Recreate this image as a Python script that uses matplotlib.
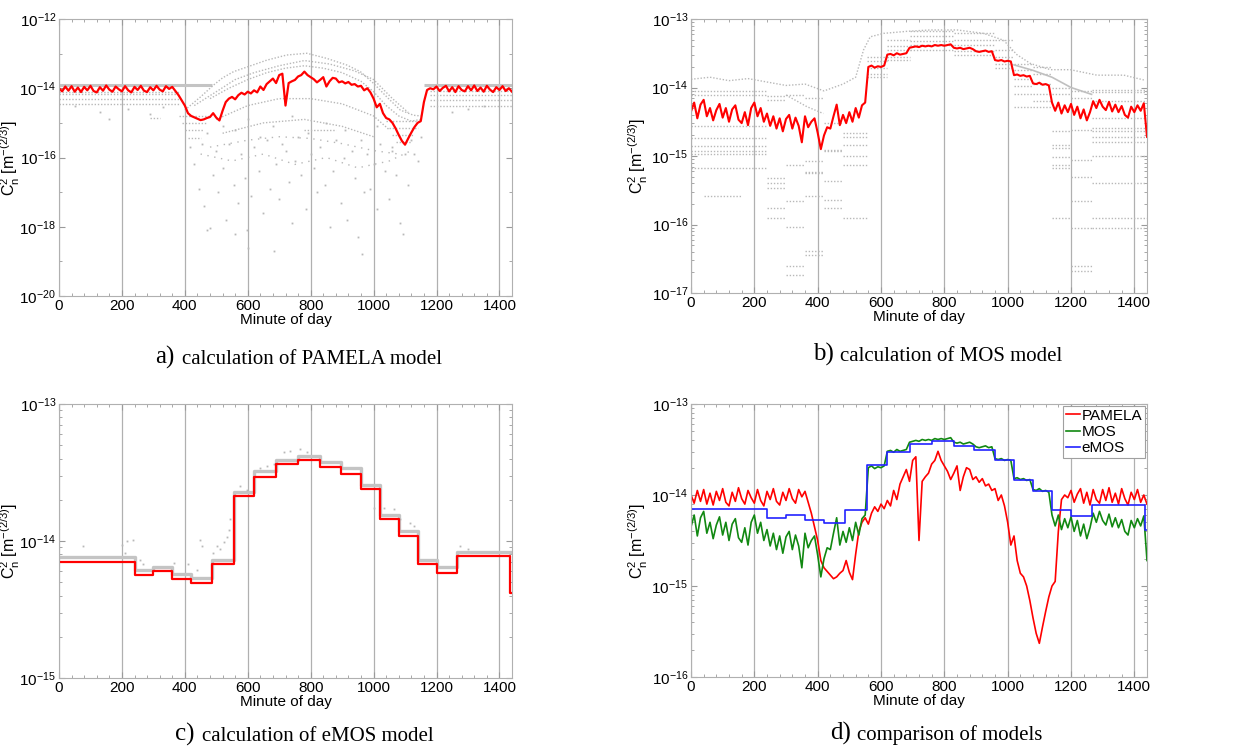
import numpy as np
import matplotlib
matplotlib.use('Agg')
import matplotlib.pyplot as plt
from matplotlib.ticker import MultipleLocator, FixedLocator, NullFormatter

plt.rcParams['font.family'] = ['Liberation Sans', 'DejaVu Sans']
plt.rcParams['mathtext.fontset'] = 'custom'
plt.rcParams['mathtext.rm'] = 'Liberation Sans'
plt.rcParams['mathtext.it'] = 'Liberation Sans:italic'
plt.rcParams['mathtext.bf'] = 'Liberation Sans:bold'
plt.rcParams['axes.unicode_minus'] = False

# ---------------- data (log10 of Cn2) ----------------
minutes = np.arange(0, 1441, 10)

pamela_log10 = [
    -14.00, -14.09, -13.95, -14.07, -13.94, -14.10, -13.98, -14.11, -13.96, -14.06,
    -13.93, -14.08, -14.12, -13.97, -14.07, -13.92, -14.04, -14.10, -13.95, -14.03,
    -14.09, -13.94, -14.06, -14.12, -13.96, -14.05, -13.93, -14.07, -14.11, -13.97,
    -14.06, -13.93, -14.04, -14.09, -13.94, -14.02, -13.96, -14.08, -14.20, -14.35,
    -14.50, -14.72, -14.80, -14.84, -14.88, -14.92, -14.90, -14.86, -14.83, -14.72,
    -14.85, -14.93, -14.65, -14.40, -14.30, -14.25, -14.32, -14.20, -14.13, -14.18,
    -14.10, -14.15, -14.06, -14.12, -13.95, -14.05, -13.88, -13.80, -13.72, -13.85,
    -13.62, -13.58, -14.50, -13.85, -13.80, -13.76, -13.66, -13.62, -13.52, -13.62,
    -13.68, -13.74, -13.83, -13.76, -13.68, -13.95, -13.80, -13.70, -13.72, -13.83,
    -13.80, -13.86, -13.82, -13.90, -13.88, -13.95, -13.93, -14.06, -14.00, -14.12,
    -14.30, -14.55, -14.45, -14.72, -14.86, -14.90, -15.00, -15.16, -15.35, -15.52,
    -15.63, -15.45, -15.28, -15.12, -15.00, -14.95, -14.40, -14.05, -14.00, -14.03,
    -13.95, -14.08, -13.99, -13.93, -14.09, -13.97, -14.11, -13.94, -14.05, -14.09,
    -13.94, -14.06, -13.92, -14.08, -13.98, -14.10, -13.93, -14.04, -14.11, -13.97,
    -14.05, -13.94, -14.08, -14.00, -14.10]

mos_log10 = [
    -14.35, -14.22, -14.45, -14.25, -14.18, -14.42, -14.30, -14.48, -14.33, -14.24,
    -14.44, -14.30, -14.50, -14.32, -14.26, -14.47, -14.52, -14.36, -14.55, -14.30,
    -14.22, -14.42, -14.30, -14.50, -14.38, -14.56, -14.42, -14.60, -14.45, -14.64,
    -14.46, -14.40, -14.60, -14.44, -14.56, -14.80, -14.42, -14.58, -14.50, -14.45,
    -14.66, -14.90, -14.70, -14.58, -14.60, -14.42, -14.25, -14.55, -14.40, -14.52,
    -14.36, -14.50, -14.30, -14.44, -14.26, -14.22, -13.70, -13.68, -13.71, -13.69,
    -13.70, -13.68, -13.52, -13.51, -13.53, -13.50, -13.52, -13.51, -13.50, -13.42,
    -13.41, -13.40, -13.41, -13.39, -13.40, -13.39, -13.40, -13.38, -13.39, -13.38,
    -13.39, -13.38, -13.37, -13.42, -13.43, -13.42, -13.44, -13.43, -13.42, -13.44,
    -13.47, -13.48, -13.47, -13.46, -13.48, -13.47, -13.60, -13.61, -13.60, -13.62,
    -13.61, -13.62, -13.82, -13.81, -13.83, -13.82, -13.84, -13.83, -13.94, -13.95,
    -13.93, -13.96, -13.95, -13.97, -14.22, -14.34, -14.22, -14.38, -14.26, -14.36,
    -14.24, -14.40, -14.28, -14.45, -14.32, -14.48, -14.36, -14.20, -14.30, -14.18,
    -14.28, -14.33, -14.21, -14.35, -14.25, -14.36, -14.27, -14.40, -14.44, -14.28,
    -14.36, -14.26, -14.34, -14.23, -14.72]

emos_edges = [0, 240, 300, 360, 420, 485, 555, 620, 690, 760, 830, 895, 960,
              1020, 1080, 1140, 1200, 1265, 1435, 1440]
emos_log10 = [-14.15, -14.25, -14.22, -14.28, -14.31, -14.17, -13.67, -13.53,
              -13.44, -13.41, -13.46, -13.51, -13.62, -13.84, -13.96, -14.17,
              -14.23, -14.11, -14.38]
# gray ensemble band just above eMOS (panel c)
emos_members_log10 = [-14.12, -14.21, -14.19, -14.24, -14.27, -14.14, -13.64, -13.49,
                      -13.41, -13.38, -13.42, -13.47, -13.59, -13.81, -13.93, -14.14,
                      -14.19, -14.08, -14.08]
c_scatter_min = [77, 199, 210, 215, 236, 258, 268, 364, 411, 438, 449, 454, 491, 502,
                 512, 523, 533, 539, 544, 576, 597, 639, 661, 682, 714, 735, 767, 788,
                 1000, 1032, 1064, 1085, 1117, 1127, 1276, 1300]
c_scatter_log10 = [-14.04, -14.03, -14.09, -14.00, -13.99, -14.14, -14.17, -14.16,
                   -14.17, -14.21, -13.99, -14.04, -14.09, -14.04, -14.06, -14.01,
                   -13.97, -13.92, -13.84, -13.60, -13.63, -13.47, -13.45, -13.44,
                   -13.35, -13.34, -13.33, -13.35, -13.76, -13.76, -13.77, -13.84,
                   -13.87, -13.89, -14.04, -14.06]

# panel a gray ensemble members
a_band_start = [0, 1160]
a_band_end = [485, 1440]
a_band_log10 = [-13.92, -13.92]
a_seg_start = [0, 0, 0, 0, 1180, 1180, 1180, 1180, 380, 390, 400, 410,
               1040, 1050, 1060, 1070, 780, 290]
a_seg_end = [380, 380, 380, 380, 1440, 1440, 1440, 1440, 480, 470, 460, 450,
             1150, 1140, 1130, 1120, 880, 320]
a_seg_log10 = [-14.10, -14.18, -14.30, -14.45, -14.08, -14.20, -14.35, -14.50,
               -14.80, -15.00, -15.20, -15.45, -14.95, -15.15, -15.35, -15.55,
               -15.20, -14.87]
a_arc1_min = [400, 450, 491, 520, 555, 600, 660, 724, 788, 852, 915, 958, 1000, 1042,
              1085, 1127, 1150]
a_arc1_log10 = [-14.63, -14.25, -13.91, -13.70, -13.52, -13.38, -13.19, -13.04, -12.99,
                -13.14, -13.33, -13.52, -13.86, -14.25, -14.63, -14.78, -14.80]
a_arc2_min = [480, 540, 600, 660, 720, 780, 840, 900, 960, 1000, 1040, 1080, 1120, 1150]
a_arc2_log10 = [-14.30, -14.00, -13.75, -13.55, -13.42, -13.35, -13.42, -13.55, -13.80,
                -14.10, -14.50, -14.80, -14.95, -14.90]
a_arc3_min = [500, 600, 700, 800, 900, 1000, 1050]
a_arc3_log10 = [-14.90, -14.50, -14.30, -14.30, -14.45, -14.80, -15.20]
a_arc4_min = [520, 650, 780, 900, 1000]
a_arc4_log10 = [-15.30, -15.00, -14.90, -15.10, -15.40]
a_arc5_min = [430, 500, 560, 620, 700, 780, 860, 940, 1000, 1060, 1110]
a_arc5_log10 = [-14.50, -14.10, -13.75, -13.55, -13.35, -13.20, -13.30, -13.50,
                -13.75, -14.30, -14.70]
a_arc6_min = [480, 600, 700, 800, 900, 1000, 1080]
a_arc6_log10 = [-15.70, -15.50, -15.40, -15.45, -15.60, -15.80, -15.90]
a_arc7_min = [450, 550, 650, 750, 850, 950, 1050, 1120]
a_arc7_log10 = [-15.90, -16.10, -15.90, -16.20, -16.00, -16.30, -16.10, -15.80]
a_pts_min = [430, 445, 460, 470, 480, 490, 500, 505, 520, 530, 540, 555, 560, 570, 580,
             590, 597, 600, 610, 620, 635, 650, 660, 670, 682, 690, 700, 710, 720, 730,
             740, 750, 760, 770, 785, 800, 810, 820, 830, 845, 860, 870, 880, 895, 905,
             915, 930, 940, 950, 963, 970, 980, 990, 1000, 1010, 1020, 1035, 1050, 1060,
             1070, 1085, 1095, 1100, 1110, 1120, 1140, 130, 160, 290, 50, 220, 330, 1300,
             1350, 1250, 470, 520, 560, 600, 640, 680, 740, 790, 850, 910, 960, 1010,
             1060, 1130, 455, 415, 1150]
a_pts_log10 = [-16.2, -16.9, -17.4, -18.1, -18.05, -16.5, -15.8, -17.0, -16.3, -17.8,
               -15.6, -16.8, -18.2, -17.3, -15.9, -16.6, -18.1, -18.6, -17.1, -15.7,
               -16.4, -17.6, -15.5, -16.9, -18.7, -16.2, -17.2, -15.6, -15.8, -16.7,
               -17.9, -16.1, -15.4, -16.5, -17.5, -15.9, -16.3, -17.0, -15.7, -16.8,
               -18.0, -16.4, -15.5, -17.3, -16.0, -17.8, -15.8, -16.6, -18.3, -18.8,
               -17.0, -15.9, -16.9, -16.2, -17.5, -15.6, -16.4, -17.2, -15.7, -16.5,
               -17.9, -18.2, -15.9, -16.8, -15.5, -16.1, -14.7, -14.9, -14.75, -14.5,
               -14.6, -14.55, -14.6, -14.5, -14.7, -15.3, -15.1, -15.2, -14.9, -15.4,
               -15.1, -14.8, -15.3, -15.0, -15.2, -15.5, -15.1, -15.8, -15.9, -15.6,
               -15.7, -15.4]

# panel b gray ensemble members (hourly constant segments)
b_blocks = [(0, 240, [-14.05, -14.11, -14.56, -14.73, -14.86, -14.93, -14.97, -15.18]),
            (40, 160, [-15.59]),
            (240, 300, [-14.13, -14.18, -15.32, -15.39, -15.47, -15.76, -15.91]),
            (300, 360, [-14.11, -15.13, -15.66, -16.03, -16.61, -16.73]),
            (360, 420, [-14.16, -15.08, -15.23, -15.25, -15.59, -16.38, -16.44]),
            (420, 480, [-14.52, -14.91, -14.93, -15.37, -15.64, -15.76]),
            (480, 555, [-14.67, -14.72, -14.84, -15.00, -15.13, -15.91]),
            (555, 620, [-13.55, -13.62, -13.72, -13.80, -13.85]),
            (620, 690, [-13.31, -13.40, -13.45, -13.55, -13.60]),
            (690, 830, [-13.18, -13.25, -13.32, -13.38, -13.45]),
            (830, 960, [-13.20, -13.30, -13.38, -13.47, -13.52]),
            (960, 1020, [-13.30, -13.45, -13.55, -13.65, -13.72]),
            (1020, 1080, [-13.65, -13.75, -13.88, -13.98, -14.10, -14.28]),
            (1080, 1140, [-13.70, -13.80, -13.95, -14.10, -14.20, -14.28]),
            (1140, 1200, [-14.00, -14.10, -14.64, -14.84, -14.89, -15.01, -15.13, -15.18, -15.91]),
            (1200, 1265, [-14.05, -14.15, -14.62, -15.06, -15.30, -15.66, -16.05, -16.61, -16.68]),
            (1265, 1440, [-14.03, -14.06, -14.20, -14.45, -14.59, -14.64, -14.72, -14.79,
                          -15.00, -15.39, -15.91, -16.05])]
b_arc_min = [0, 60, 120, 180, 240, 300, 360, 420, 480, 520, 545, 566, 608, 682, 755, 840,
             924, 987, 1029, 1072, 1135, 1198, 1282, 1367, 1430]
b_arc_log10 = [-13.88, -13.85, -13.90, -13.87, -13.92, -13.97, -13.95, -14.05, -13.95,
               -13.85, -13.45, -13.26, -13.21, -13.18, -13.16, -13.16, -13.21, -13.31,
               -13.52, -13.65, -13.74, -13.74, -13.82, -13.82, -13.89]
b_mid_min = [300, 366, 418, 1020, 1080, 1140, 1200, 1265]
b_mid_log10 = [-14.11, -14.28, -14.38, -13.67, -13.75, -13.85, -14.00, -14.10]

# ---------------- figure ----------------
fig = plt.figure(figsize=(12.45, 7.53), dpi=100)
W, H = 1245, 753


def axes_px(l, t, r, b):
    return fig.add_axes([l / W, 1 - b / H, (r - l) / W, (b - t) / H])


ax_a = axes_px(59, 19, 512, 296)
ax_b = axes_px(691, 19, 1147, 293)
ax_c = axes_px(59, 404, 512, 678)
ax_d = axes_px(691, 404, 1147, 677)

GRAY = '#b8b8b8'
p = lambda v: 10.0 ** np.asarray(v)


def style(ax, lo, hi, major, minor=None, labx=-0.082):
    ax.set_yscale('log')
    ax.set_xlim(0, 1440)
    ax.set_ylim(10.0 ** lo, 10.0 ** hi)
    ax.set_xticks(range(0, 1401, 200))
    ax.xaxis.set_minor_locator(MultipleLocator(40))
    ax.set_yticks([10.0 ** e for e in major])
    if minor is not None:
        ax.yaxis.set_minor_locator(FixedLocator([10.0 ** e for e in minor]))
        ax.yaxis.set_minor_formatter(NullFormatter())
    ax.grid(axis='x', which='major', color='#b0b0b0', lw=0.9)
    ax.set_axisbelow(True)
    ax.tick_params(which='both', direction='in', top=True, right=True,
                   color='#9a9a9a', labelsize=11, pad=2)
    ax.tick_params(which='major', length=4)
    ax.tick_params(which='minor', length=2)
    for s in ax.spines.values():
        s.set_color('#b0b0b0')
    ax.set_xlabel('Minute of day', fontsize=11, labelpad=0)
    ax.set_ylabel(r'$\mathregular{C_n^2\ [m^{-(2/3)}]}$', fontsize=11.5)
    ax.yaxis.set_label_coords(labx, 0.5)


dot = dict(color=GRAY, lw=1.0, linestyle=(0, (1, 1.3)))
sparse_dot = dict(color=GRAY, lw=1.0, linestyle=(0, (1, 4)))

# panel a
ax_a.hlines(p(a_band_log10), a_band_start, a_band_end, color='#c4c4c4', lw=2.2)
ax_a.hlines(p(a_seg_log10), a_seg_start, a_seg_end, **dot)
for xs, es in [(a_arc1_min, a_arc1_log10), (a_arc2_min, a_arc2_log10),
               (a_arc3_min, a_arc3_log10), (a_arc4_min, a_arc4_log10),
               (a_arc5_min, a_arc5_log10)]:
    ax_a.plot(xs, p(es), **dot)
for xs, es in [(a_arc6_min, a_arc6_log10), (a_arc7_min, a_arc7_log10)]:
    ax_a.plot(xs, p(es), **sparse_dot)
ax_a.plot(a_pts_min, p(a_pts_log10), ls='none', marker='s', ms=1.3, color=GRAY, mew=0)
ax_a.plot(minutes, p(pamela_log10), color='#ff0000', lw=1.6)
style(ax_a, -20, -12, [-20, -18, -16, -14, -12], [-19, -17, -15, -13])

# panel b
for s0, s1, levels in b_blocks:
    ax_b.hlines(p(levels), s0, s1, **dot)
ax_b.plot(b_arc_min, p(b_arc_log10), **dot)
ax_b.plot(b_mid_min[:3], p(b_mid_log10[:3]), **dot)
ax_b.plot(b_mid_min[3:], p(b_mid_log10[3:]), color='#c0c0c0', lw=1.2)
ax_b.plot(minutes, p(mos_log10), color='#ff0000', lw=1.5)
style(ax_b, -17, -13, [-17, -16, -15, -14, -13], labx=-0.09)

# panel c
ax_c.step(emos_edges, p(emos_members_log10 + emos_members_log10[-1:]), where='post',
          color='#c4c4c4', lw=2.4)
ax_c.plot(c_scatter_min, p(c_scatter_log10), ls='none', marker='s', ms=1.3,
          color=GRAY, mew=0)
ax_c.step(emos_edges, p(emos_log10 + emos_log10[-1:]), where='post',
          color='#ff0000', lw=1.6)
style(ax_c, -15, -13, [-15, -14, -13])

# panel d
ax_d.plot(minutes, p(pamela_log10), color='#ff0000', lw=1.2, label='PAMELA')
ax_d.plot(minutes, p(mos_log10), color='#118811', lw=1.2, label='MOS')
ax_d.step(emos_edges, p(emos_log10 + emos_log10[-1:]), where='post',
          color='#2222ff', lw=1.2, label='eMOS')
style(ax_d, -16, -13, [-16, -15, -14, -13], labx=-0.09)
leg = ax_d.legend(loc='upper right', fontsize=11, handlelength=0.9, handletextpad=0.15,
                  borderpad=0.2, labelspacing=0.15, borderaxespad=0.1,
                  fancybox=False, framealpha=1)
leg.get_frame().set_edgecolor('#a0a0a0')
leg.get_frame().set_linewidth(0.8)

# captions
captions = [(155, 364, 'a)', 'calculation of PAMELA model'),
            (813, 361, 'b)', 'calculation of MOS model'),
            (175, 741, 'c)', 'calculation of eMOS model'),
            (830, 740, 'd)', 'comparison of models')]
for x0, yb, lab, txt in captions:
    fig.text(x0 / W, 1 - yb / H, lab, fontsize=18, family='Liberation Serif',
             va='baseline', ha='left')
    fig.text((x0 + 27) / W, 1 - yb / H, txt, fontsize=15, family='Liberation Serif',
             va='baseline', ha='left')

fig.savefig('out.png', dpi=100)
